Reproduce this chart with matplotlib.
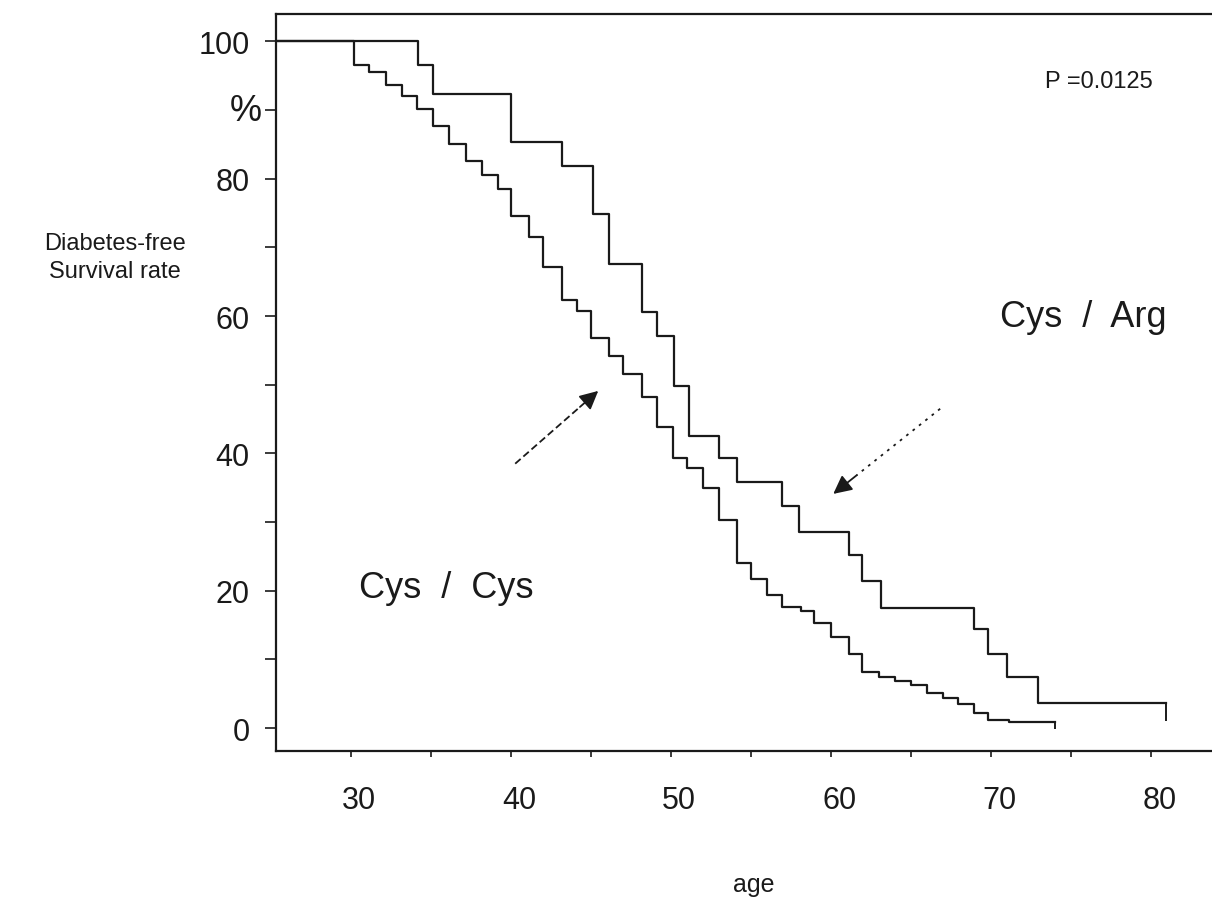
import matplotlib
matplotlib.use("Agg")
import matplotlib.pyplot as plt
from matplotlib.transforms import ScaledTranslation

plt.rcParams['font.family'] = ['Liberation Sans', 'DejaVu Sans']

# ---- data ----
arg_age = [25.3, 34.2, 35.1, 40.0, 43.2, 45.1, 46.1, 48.2, 49.1, 50.2, 51.1, 53.0,
           54.1, 56.9, 58.0, 61.1, 61.9, 63.1, 68.9, 69.8, 71.0, 72.9, 80.9]
arg_surv = [100, 96.5, 92.3, 85.4, 81.9, 74.9, 67.6, 60.6, 57.1, 49.8, 42.6, 39.3,
            35.9, 32.4, 28.6, 25.2, 21.4, 17.5, 14.4, 10.8, 7.4, 3.6, 3.6]

cys_age = [25.3, 30.2, 31.1, 32.2, 33.2, 34.1, 35.1, 36.1, 37.2, 38.2, 39.2, 40.0,
           41.1, 42.0, 43.2, 44.1, 45.0, 46.1, 47.0, 48.2, 49.1, 50.1, 51.0, 52.0,
           53.0, 54.1, 55.0, 56.0, 56.9, 58.1, 58.9, 60.0, 61.1, 61.9, 63.0, 64.0,
           65.0, 66.0, 67.0, 67.9, 68.9, 69.8, 71.1, 74.0]
cys_surv = [100, 96.5, 95.5, 93.6, 92.1, 90.2, 87.7, 85.1, 82.6, 80.5, 78.5, 74.6,
            71.5, 67.1, 62.4, 60.7, 56.8, 54.2, 51.6, 48.2, 43.8, 39.4, 37.8, 35.0,
            30.3, 24.1, 21.7, 19.3, 17.6, 17.0, 15.3, 13.2, 10.8, 8.1, 7.4, 6.9,
            6.2, 5.1, 4.4, 3.5, 2.2, 1.2, 0.9, 0.9]

x_ticks = [30, 40, 50, 60, 70, 80]
x_minor = [35, 45, 55, 65, 75]
y_ticks = [0, 20, 40, 60, 80, 100]
y_minor = [10, 30, 50, 70, 90]

W, H = 1212, 903
fig = plt.figure(figsize=(W / 100, H / 100), dpi=100)
ax = fig.add_axes([276 / W, 1 - 752 / H, (W - 276) / W, (752 - 15) / H])

lc = '#1a1a1a'
ax.step(arg_age, arg_surv, where='post', color=lc, lw=1.6)
ax.step(cys_age, cys_surv, where='post', color=lc, lw=1.6)
# censor marks at curve ends
ax.vlines([arg_age[-1]], arg_surv[-1] - 2.6, arg_surv[-1], color=lc, lw=1.4)
ax.vlines([cys_age[-1]], cys_surv[-1] - 1.0, cys_surv[-1], color=lc, lw=1.4)

ax.set_xlim(25.3, 25.3 + (W - 276) / 16.0)
ax.set_ylim(-3.35, 104.0)

for s in ['left', 'top', 'bottom']:
    ax.spines[s].set_linewidth(1.6)
    ax.spines[s].set_color(lc)
ax.spines['right'].set_visible(False)

ax.set_xticks(x_ticks)
ax.set_xticks(x_minor, minor=True)
ax.set_yticks(y_ticks)
ax.set_yticks(y_minor, minor=True)
ax.set_xticklabels([str(v) for v in x_ticks])
ax.set_yticklabels([str(v) for v in y_ticks])
ax.tick_params(axis='x', which='both', direction='out', length=4.5, width=1.2,
               pad=20, labelsize=22, colors=lc)
ax.tick_params(axis='y', which='both', direction='out', length=8, width=1.2,
               pad=11, labelsize=22, colors=lc)
for t in ax.xaxis.get_major_ticks():
    t.label1.set_transform(t.label1.get_transform() +
                           ScaledTranslation(8 / 100, 0, fig.dpi_scale_trans))

# % sign at 90
ax.text(-0.032, 90, '%', transform=ax.get_yaxis_transform(), ha='center',
        va='center', fontsize=26, color=lc)

# texts
fig.text(115 / W, 1 - 258 / H, 'Diabetes-free\nSurvival rate', ha='center',
         va='center', fontsize=17, linespacing=1.4, color=lc)
fig.text(754 / W, 1 - 885 / H, 'age', ha='center', va='center', fontsize=18, color=lc)
fig.text(1099 / W, 1 - 82 / H, 'P =0.0125', ha='center', va='center', fontsize=17, color=lc)
fig.text(446 / W, 1 - 588 / H, 'Cys  /  Cys', ha='center', va='center', fontsize=26, color=lc)
fig.text(1083 / W, 1 - 318 / H, 'Cys  /  Arg', ha='center', va='center', fontsize=26, color=lc)

# arrows
def arrow(start, tip, dash):
    fx = 0.22
    mid = (tip[0] + (start[0] - tip[0]) * fx, tip[1] + (start[1] - tip[1]) * fx)
    ax.plot([start[0], mid[0]], [start[1], mid[1]], color=lc, lw=1.3, ls=dash)
    ax.annotate('', xy=tip, xytext=mid,
                arrowprops=dict(arrowstyle='-|>', color=lc, lw=1.3,
                                mutation_scale=28, shrinkA=0, shrinkB=0))

arrow((40.25, 38.5), (45.44, 49.1), (0, (4, 2)))
arrow((66.81, 46.5), (60.13, 34.1), (0, (1.5, 3)))

fig.savefig('out.png', dpi=100)
